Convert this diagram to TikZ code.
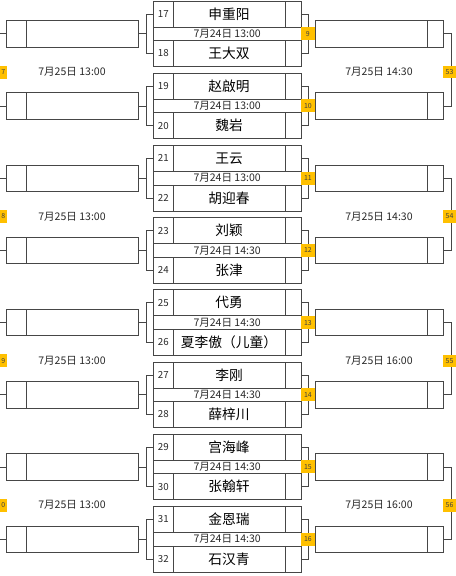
\documentclass[tikz,border=0pt]{standalone}
\usepackage{fontspec}
\setmainfont{Noto Sans CJK SC}
\usetikzlibrary{calc}
\definecolor{badgeyellow}{RGB}{255,192,0}
\definecolor{linegray}{RGB}{70,70,70}
\definecolor{textgray}{RGB}{40,40,40}
\begin{document}
\begin{tikzpicture}[x=0.75pt,y=0.75pt,yscale=-1,xscale=1,
  boxline/.style={draw=linegray,line width=0.6pt},
  cbox/.style={boxline,rectangle,inner sep=0pt,outer sep=0pt,minimum width=110.8pt,minimum height=19.5pt},
  lbox/.style={boxline,rectangle,inner sep=0pt,outer sep=0pt,minimum width=99pt,minimum height=19.8pt},
  rbox/.style={boxline,rectangle,inner sep=0pt,outer sep=0pt,minimum width=95.7pt,minimum height=19.8pt},
  badge/.style={fill=badgeyellow,inner sep=0pt,outer sep=0pt,minimum width=10.7pt,minimum height=9.75pt,font=\fontsize{5.2}{6}\selectfont,text=black!75},
  numtext/.style={inner sep=0pt,font=\fontsize{7.3}{8}\selectfont,text=textgray},
  nametext/.style={inner sep=0pt,font=\fontsize{10.3}{12}\selectfont},
  datetext/.style={inner sep=0pt,font=\fontsize{7.9}{9}\selectfont,text=textgray}]
\useasboundingbox (0,0) rectangle (456,576);

% Matches of the first day
\foreach \nA/\pA/\nB/\pB/\day [count=\k from 0] in {
  17/申重阳/18/王大双/7月24日 13:00,
  19/赵啟明/20/魏岩/7月24日 13:00,
  21/王云/22/胡迎春/7月24日 13:00,
  23/刘颖/24/张津/7月24日 14:30,
  25/代勇/26/夏李傲（儿童）/7月24日 14:30,
  27/李刚/28/薛梓川/7月24日 14:30,
  29/宫海峰/30/张翰轩/7月24日 14:30,
  31/金恩瑞/32/石汉青/7月24日 14:30}{
  \pgfmathsetmacro\T{1+72.2*\k}
  \pgfmathtruncatemacro\m{\k+9}
  % center pair
  \node[cbox] (a\k) at (227.15,\T+13) {};
  \node[cbox] (b\k) at (227.15,\T+52.5) {};
  \draw[boxline] (a\k.north west) rectangle (b\k.south east);
  \draw[boxline] ([xshift=15pt]a\k.north west) -- ([xshift=15pt]a\k.south west);
  \draw[boxline] ([xshift=15pt]b\k.north west) -- ([xshift=15pt]b\k.south west);
  \draw[boxline] ([xshift=-12pt]a\k.north east) -- ([xshift=-12pt]a\k.south east);
  \draw[boxline] ([xshift=-12pt]b\k.north east) -- ([xshift=-12pt]b\k.south east);
  \node[numtext] (na\k) at ([xshift=7.5pt]a\k.west) {\nA};
  \node[numtext] (nb\k) at ([xshift=7.5pt]b\k.west) {\nB};
  \node[nametext] (pa\k) at ([xshift=1.4pt]a\k.center) {\pA};
  \node[nametext] (pb\k) at ([xshift=1.4pt]b\k.center) {\pB};
  \node[datetext] (d\k) at ($(a\k.south)!0.5!(b\k.north)$) {\day};
  % side boxes
  \node[lbox] (l\k) at (72.7,\T+32.8) {};
  \draw[boxline] ([xshift=14.7pt]l\k.north west) -- ([xshift=14.7pt]l\k.south west);
  \node[rbox] (r\k) at (379.5,\T+32.8) {};
  \draw[boxline] ([xshift=-12.2pt]r\k.north east) -- ([xshift=-12.2pt]r\k.south east);
  % brackets
  \draw[boxline] (l\k.east) -- ++(8,0) coordinate (lj\k);
  \draw[boxline] (a\k.west) -| (lj\k) |- (b\k.west);
  \draw[boxline] (l\k.west) -- ++(-7,0);
  \coordinate (rj\k) at (307.9,\T+32.75);
  \draw[boxline] (a\k.east) -| (rj\k) |- (b\k.east);
  \node[badge] (m\k) at (rj\k) {\m};
}

% Matches of the second day
\foreach \p/\lb/\rb/\rday in {0/7/53/7月25日 14:30, 1/8/54/7月25日 14:30,
  2/9/55/7月25日 16:00, 3/0/56/7月25日 16:00}{
  \pgfmathtruncatemacro\i{2*\p}
  \pgfmathtruncatemacro\j{2*\p+1}
  \pgfmathsetmacro\M{1+144.4*\p+71}
  \draw[boxline] (r\i.east) -- ++(8.4,0) |- (r\j.east);
  \node[badge,minimum width=9.75pt,minimum height=9.45pt] (rm\p) at (449.5,\M) {\rb};
  \node[badge,minimum width=5pt,anchor=east] (lm\p) at (6.7,\M) {\lb};
  \node[datetext] (ld\p) at (72,\M) {7月25日 13:00};
  \node[datetext] (rd\p) at (379,\M) {\rday};
}

\end{tikzpicture}
\end{document}
